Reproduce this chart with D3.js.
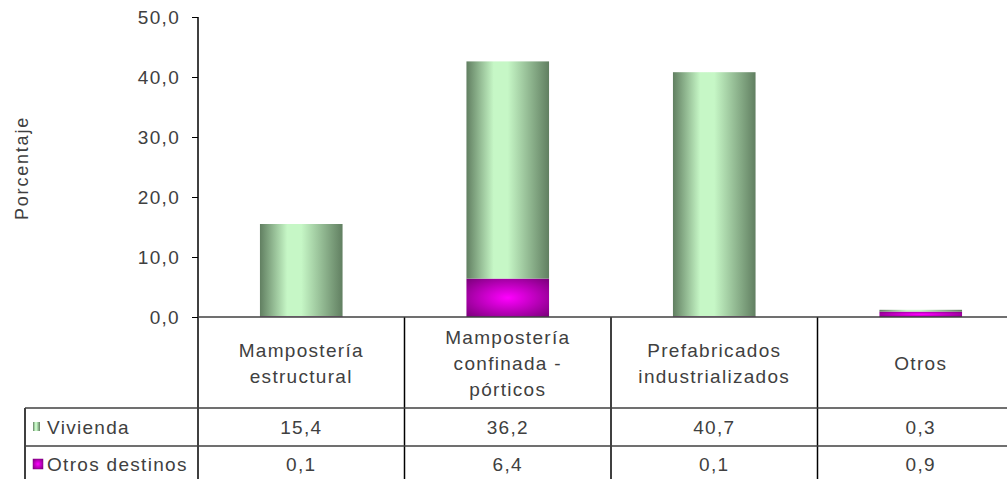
<!DOCTYPE html>
<html lang="es">
<head>
<meta charset="utf-8">
<title>Porcentaje por sistema constructivo</title>
<script src="https://cdnjs.cloudflare.com/ajax/libs/d3/7.8.5/d3.min.js"></script>
<style>
  body { margin: 0; background: #fff; }
  text { font-family: "Liberation Sans", Arial, sans-serif; fill: #404040; }
  .lbl { font-size: 19px; letter-spacing: 1.3px; }
</style>
</head>
<body>
<div id="vis"></div>
<script>
// categorias del eje x (lineas del rotulo)
var categories = [
  ['Mampostería', 'estructural'],
  ['Mampostería', 'confinada -', 'pórticos'],
  ['Prefabricados', 'industrializados'],
  ['Otros']
];
var seriesNames = ['Vivienda', 'Otros destinos'];
var vivienda = [15.4, 36.2, 40.7, 0.3];
var otrosDestinos = [0.1, 6.4, 0.1, 0.9];
var yTicks = [0, 10, 20, 30, 40, 50];

var width = 1007, height = 479;

var svg = d3.select('#vis').append('svg')
  .attr('width', width)
  .attr('height', height);

var defs = svg.append('defs');

var gGreen = defs.append('linearGradient').attr('id', 'gGreen');
gGreen.append('stop').attr('offset', '0%').attr('stop-color', '#617f61');
gGreen.append('stop').attr('offset', '33%').attr('stop-color', '#c6f7c6');
gGreen.append('stop').attr('offset', '50%').attr('stop-color', '#c6f7c6');
gGreen.append('stop').attr('offset', '100%').attr('stop-color', '#617f61');

var gMag = defs.append('radialGradient').attr('id', 'gMag')
  .attr('cx', '50%').attr('cy', '50%').attr('r', '70%');
gMag.append('stop').attr('offset', '0%').attr('stop-color', '#ff00ff');
gMag.append('stop').attr('offset', '100%').attr('stop-color', '#7a007a');

var fills = ['url(#gGreen)', 'url(#gMag)'];

var x = d3.scaleBand()
  .domain(d3.range(categories.length))
  .range([198, 1024])
  .paddingInner(0)
  .paddingOuter(0);

var y = d3.scaleLinear()
  .domain([0, 50])
  .range([317, 17]);

// apilado: otros destinos abajo, vivienda arriba
var rows = categories.map(function(c, i) {
  return { i: i, viv: vivienda[i], otr: otrosDestinos[i] };
});
var stack = d3.stack().keys(['otr', 'viv'])(rows);

var barW = x.bandwidth() * 0.4;

stack.forEach(function(layer, li) {
  svg.append('g').selectAll('rect')
    .data(layer)
    .enter().append('rect')
    .attr('x', function(d) { return x(d.data.i) + (x.bandwidth() - barW) / 2; })
    .attr('y', function(d) { return y(d[1]); })
    .attr('width', barW)
    .attr('height', function(d) { return y(d[0]) - y(d[1]); })
    .attr('fill', li === 0 ? fills[1] : fills[0]);
});

// eje y
var yAxis = d3.axisLeft(y)
  .tickValues(yTicks)
  .tickSize(6)
  .tickFormat(function(d) { return d3.format('.1f')(d).replace('.', ','); });

var ga = svg.append('g')
  .attr('transform', 'translate(198,0)')
  .call(yAxis);
ga.select('.domain').remove();
ga.selectAll('line').attr('stroke', '#000');
ga.selectAll('text')
  .attr('class', 'lbl')
  .attr('x', -18)
  .attr('dy', '0.36em')
  .attr('fill', '#404040')
  .style('font-family', '"Liberation Sans", Arial, sans-serif');

svg.append('text')
  .attr('class', 'lbl')
  .attr('transform', 'translate(28,168) rotate(-90)')
  .attr('text-anchor', 'middle')
  .style('font-size', '18px')
  .style('letter-spacing', '1.8px')
  .text('Porcentaje');

// tabla de datos
var tableTop = 317, headBottom = 408, row1Bottom = 446, tableLeft = 25;

var lines = svg.append('g');
// linea vertical del eje (continua por la tabla)
lines.append('line')
  .attr('x1', 198).attr('x2', 198)
  .attr('y1', y(50)).attr('y2', height)
  .attr('stroke', '#000').attr('stroke-width', 1.5);
// divisiones de columnas
x.domain().slice(1).forEach(function(i) {
  lines.append('line')
    .attr('x1', x(i)).attr('x2', x(i))
    .attr('y1', tableTop).attr('y2', height)
    .attr('stroke', '#000').attr('stroke-width', 1.5);
});
lines.append('line')
  .attr('x1', tableLeft).attr('x2', tableLeft)
  .attr('y1', headBottom).attr('y2', height)
  .attr('stroke', '#000').attr('stroke-width', 1.5);
// horizontales
lines.append('line')
  .attr('x1', 198).attr('x2', width)
  .attr('y1', tableTop).attr('y2', tableTop)
  .attr('stroke', '#404040').attr('stroke-width', 1.5);
[headBottom, row1Bottom].forEach(function(yy) {
  lines.append('line')
    .attr('x1', tableLeft).attr('x2', width)
    .attr('y1', yy).attr('y2', yy)
    .attr('stroke', '#404040').attr('stroke-width', 1.5);
});

// rotulos de categorias
categories.forEach(function(c, i) {
  var cx = x(i) + x.bandwidth() / 2;
  var t = svg.append('text')
    .attr('class', 'lbl')
    .attr('text-anchor', 'middle');
  var lh = 26;
  var y0 = 363 - (c.length - 1) * lh / 2;
  c.forEach(function(s, k) {
    t.append('tspan')
      .attr('x', cx)
      .attr('y', y0 + k * lh)
      .attr('dy', '0.36em')
      .text(s);
  });
});

// filas de valores
var seriesVals = [vivienda, otrosDestinos];
var rowCenters = [427, 464];
var fmt = function(v) { return d3.format('.1f')(v).replace('.', ','); };

seriesVals.forEach(function(vals, r) {
  svg.append('rect')
    .attr('x', 33)
    .attr('y', rowCenters[r] - 5)
    .attr('width', r === 0 ? 7 : 10)
    .attr('height', r === 0 ? 9 : 10)
    .attr('fill', fills[r])
    .attr('stroke', r === 0 ? 'none' : '#800080')
    .attr('stroke-width', 0.5);
  svg.append('text')
    .attr('class', 'lbl')
    .attr('x', 47)
    .attr('y', rowCenters[r])
    .attr('dy', '0.36em')
    .text(seriesNames[r]);
  svg.append('g').selectAll('text')
    .data(vals)
    .enter().append('text')
    .attr('class', 'lbl')
    .attr('text-anchor', 'middle')
    .attr('x', function(d, i) { return x(i) + x.bandwidth() / 2; })
    .attr('y', rowCenters[r])
    .attr('dy', '0.36em')
    .text(fmt);
});
</script>
</body>
</html>
